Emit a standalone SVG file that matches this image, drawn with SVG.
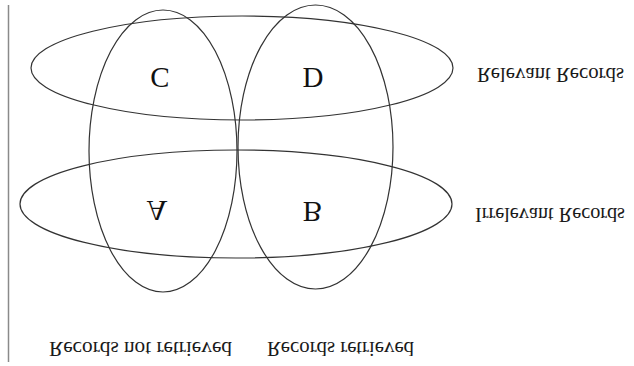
<svg xmlns="http://www.w3.org/2000/svg" width="634" height="366" viewBox="0 0 634 366">
<style>
.set{fill:none;stroke:#333;stroke-width:1.2}
.lbl{font-family:"Liberation Serif","Times New Roman",serif;font-size:20px;fill:#1a1a1a}
.big{font-family:"Liberation Serif","Times New Roman",serif;font-size:29px;fill:#111;text-anchor:middle}
</style>
<rect width="634" height="366" fill="#fff"/>
<line x1="8.5" y1="5" x2="8.5" y2="362" stroke="#8a8a8a" stroke-width="1.5"/>
<g id="relevant">
<ellipse class="set" cx="242" cy="68" rx="211" ry="52"/>
<text class="lbl" transform="translate(477,68) scale(1,-1)" textLength="147" lengthAdjust="spacingAndGlyphs">Relevant Records</text>
</g>
<g id="irrelevant">
<ellipse class="set" cx="236" cy="204" rx="216" ry="54"/>
<text class="lbl" transform="translate(475,208) scale(1,-1)" textLength="150" lengthAdjust="spacingAndGlyphs">Irrelevant Records</text>
</g>
<g id="not-retrieved">
<ellipse class="set" cx="163" cy="151" rx="74" ry="141"/>
<text class="lbl" transform="translate(49,342) scale(1,-1)" textLength="183" lengthAdjust="spacingAndGlyphs">Records not retrieved</text>
</g>
<g id="retrieved">
<ellipse class="set" cx="315.5" cy="147" rx="77.5" ry="142"/>
<text class="lbl" transform="translate(267,342) scale(1,-1)" textLength="147" lengthAdjust="spacingAndGlyphs">Records retrieved</text>
</g>
<g id="region-C"><text class="big" transform="translate(160,68) scale(1,-1)">C</text></g>
<g id="region-D"><text class="big" transform="translate(313,68) scale(1,-1)">D</text></g>
<g id="region-A"><text class="big" transform="translate(157,201) scale(1,-1)">A</text></g>
<g id="region-B"><text class="big" transform="translate(312.5,202) scale(1,-1)">B</text></g>
<g id="connectors"></g>
</svg>
